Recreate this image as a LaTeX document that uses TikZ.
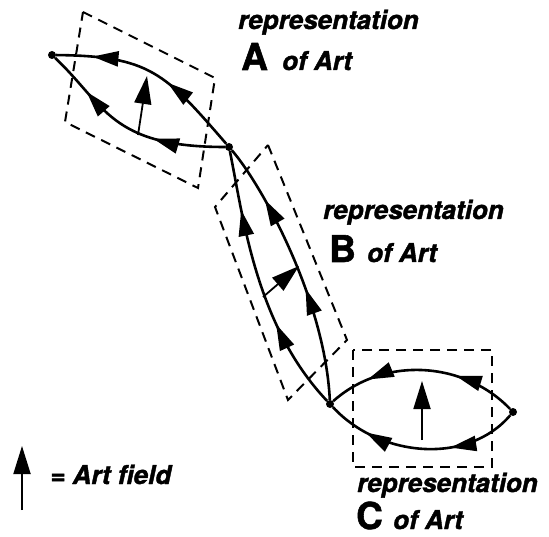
\documentclass[tikz,border=0pt]{standalone}
\usepackage{fontspec}
\setmainfont{TeX Gyre Heros}[BoldFeatures={FakeBold=1.5},BoldItalicFeatures={FakeBold=1.5}]
\usetikzlibrary{arrows.meta,decorations.markings}

\tikzset{
	flow/.style 2 args={line width=2.6pt, decoration={markings,
		mark=at position #1 with {\arrow{Triangle[length=26pt,width=15pt]}},
		mark=at position #2 with {\arrow{Triangle[length=26pt,width=15pt]}}},
		postaction={decorate}},
	field/.style={line width=1.8pt, -{Triangle[length=28pt,width=17pt]}},
	frame/.style={line width=2pt, dash pattern=on 10pt off 7pt},
	dot/.style={circle, fill, inner sep=0pt, minimum size=8pt},
	lbl/.style={font=\fontsize{26}{28}\selectfont\bfseries\itshape, inner sep=0pt, anchor=base west},
	big/.style={font=\fontsize{37}{38}\selectfont\bfseries, inner sep=0pt, anchor=base west}
}

\begin{document}
\begin{tikzpicture}[x=1pt,y=-1pt]
			\useasboundingbox (0,0) rectangle (549,537);
			\node[dot] (p1) at (52,55) {};
			\node[dot] (p2) at (229,147) {};
			\node[dot] (p3) at (330,404) {};
			\node[dot] (p4) at (513,412) {};
			\draw[frame] (83,12) -- (215,78) -- (198,188) -- (65,122) -- cycle;
			\draw[frame] (268,145) -- (347,340) -- (288,400) -- (215,207) -- cycle;
			\draw[frame] (353,350) rectangle (492,467);
			\draw[flow={0.42}{0.82}] (p2) .. controls (165,73) and (150,56) .. (p1);
			\draw[flow={0.36}{0.77}] (p2) .. controls (110,147) and (105,105) .. (p1);
			\draw[flow={0.42}{0.78}] (p3) .. controls (325,300) and (262,185) .. (p2);
			\draw[flow={0.34}{0.78}] (p3) .. controls (255,325) and (243,215) .. (p2);
			\draw[flow={0.33}{0.79}] (p4) .. controls (465,362) and (385,355) .. (p3);
			\draw[flow={0.35}{0.79}] (p4) .. controls (468,465) and (380,458) .. (p3);
			\coordinate (fa0) at (138,135);
			\coordinate (fa1) at (147,76);
			\coordinate (fb0) at (263,297);
			\coordinate (fb1) at (299,266);
			\coordinate (fc0) at (422,440);
			\coordinate (fc1) at (422,381);
			\coordinate (fk0) at (22,510);
			\coordinate (fk1) at (22,446);
			\draw[field] (fa0) -- (fa1);
			\draw[field] (fb0) -- (fb1);
			\draw[field] (fc0) -- (fc1);
			\draw[field] (fk0) -- (fk1);
			\node[lbl] (reprA) at (238,29) {representation};
			\node[big] (letA) at (241,70) {A};
			\node[lbl] (ofA) at (282,70) {of Art};
			\node[lbl] (reprB) at (323,219) {representation};
			\node[big] (letB) at (329,262) {B};
			\node[lbl] (ofB) at (367,262) {of Art};
			\node[lbl] (reprC) at (357,492) {representation};
			\node[big] (letC) at (356,529) {C};
			\node[lbl] (ofC) at (393,529) {of Art};
			\node[lbl] (key) at (50,484) {= Art field};
			\end{tikzpicture}
\end{document}
